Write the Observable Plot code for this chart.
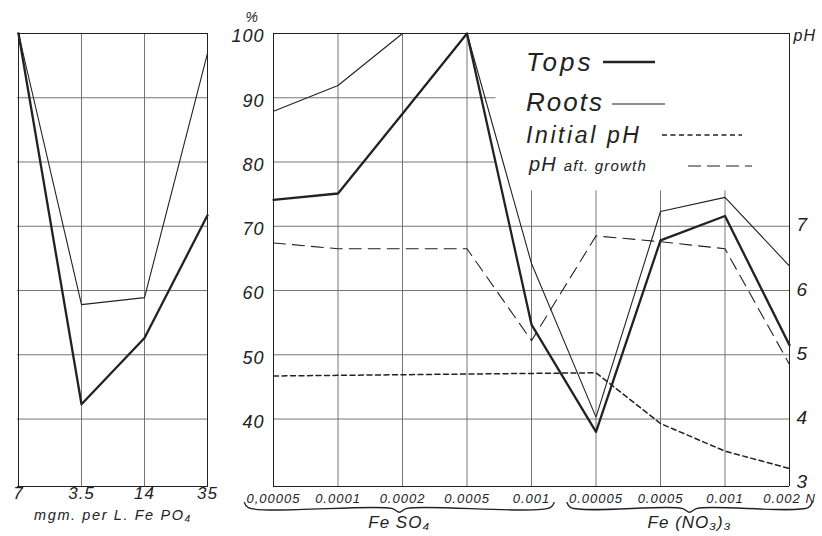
<!DOCTYPE html>
<html>
<head>
<meta charset="utf-8">
<script src="https://cdn.jsdelivr.net/npm/d3@7"></script>
<script src="https://cdn.jsdelivr.net/npm/@observablehq/plot@0.6"></script>
<style>
  html, body { margin: 0; padding: 0; background: #fff; }
  #wrap { position: relative; width: 822px; height: 536px; overflow: hidden; background: #fff; }
  #left { position: absolute; left: 0; top: 0; }
  #right { position: absolute; left: 225px; top: 0; }
  #legend { position: absolute; left: 0; top: 0; pointer-events: none; }
  svg text { font-family: "Liberation Sans", "DejaVu Sans", sans-serif; font-style: italic; letter-spacing: 1px; }
</style>
</head>
<body>
<div id="wrap">
  <div id="left"></div>
  <div id="right"></div>
  <svg id="legend" width="822" height="536"></svg>
</div>
<script>
// ---- Left panel: mgm. per L. Fe PO4 ----
const leftX = ["7", "3.5", "14", "35"];
const leftTops = [100, 42.3, 52.6, 71.7];
const leftRoots = [100, 57.8, 58.9, 96.9];

// ---- Right panel ----
const rightX = ["0,00005", "0.0001", "0.0002", "0.0005", "0.001", "0.00005", "0.0005", "0.001", "0.002 N"];
const tops = [74.1, 75.1, 87.5, 100, 54.7, 38.0, 67.8, 71.6, 51.5];
const roots = [87.9, 91.9, 100, 100, 64.2, 40.3, 72.3, 74.5, 63.8];
const initialPH = [4.67, 4.68, 4.69, 4.70, 4.71, 4.72, 3.93, 3.50, 3.23];
const afterPH = [6.74, 6.65, 6.65, 6.65, 5.22, 6.85, 6.76, 6.65, 4.85];

const groups = [
  {name: "Fe SO\u2084", from: 0, to: 4},
  {name: "Fe (NO\u2083)\u2083", from: 5, to: 8}
];

const pctTicks = [40, 50, 60, 70, 80, 90, 100];
const pHTicks = [3, 4, 5, 6, 7];
const gridPct = [40, 50, 60, 70, 80, 90];

const yDomain = [29.5, 100];
const ink = "#222";
const gridInk = "#666";
const font = "Liberation Sans, DejaVu Sans, sans-serif";

// Left chart
const leftRows = leftX.map((x, i) => ({x, tops: leftTops[i], roots: leftRoots[i]}));
const leftChart = Plot.plot({
  width: 230, height: 536,
  marginLeft: 17, marginRight: 22, marginTop: 33, marginBottom: 50,
  x: {type: "point", domain: leftX, padding: 0, axis: null},
  y: {domain: yDomain, axis: null},
  style: {fontFamily: font, background: "white"},
  marks: [
    Plot.ruleY(gridPct, {stroke: gridInk, strokeWidth: 0.9}),
    Plot.ruleX(leftX.slice(1, -1), {stroke: gridInk, strokeWidth: 0.9}),
    Plot.ruleY([yDomain[0], 100], {stroke: ink, strokeWidth: 1}),
    Plot.ruleX([leftX[0], leftX[leftX.length - 1]], {stroke: ink, strokeWidth: 1}),
    Plot.line(leftRows, {x: "x", y: "roots", stroke: ink, strokeWidth: 1.1}),
    Plot.line(leftRows, {x: "x", y: "tops", stroke: ink, strokeWidth: 2.3}),
    Plot.text(leftX, {x: d => d, frameAnchor: "bottom", dy: 12, fontSize: 17, fill: ink}),
    Plot.text(["mgm. per L. Fe PO\u2084"], {frameAnchor: "bottom", dy: 33, dx: 0, fontSize: 14.5, fill: ink})
  ]
});
document.getElementById("left").appendChild(leftChart);
d3.select(leftChart).selectAll("text").filter(function() { return this.textContent.startsWith("mgm"); })
  .style("letter-spacing", "1.6px");

// Right chart
const rows = rightX.map((lab, i) => ({
  i, tops: tops[i], roots: roots[i], init: initialPH[i] * 10, after: afterPH[i] * 10
}));
const braceRows = [];
groups.forEach((g, gi) => {
  const a = g.from - 0.45, b = g.to + 0.35, m = (a + b) / 2;
  [[a, 27.0], [a + 0.06, 26.2], [m - 0.12, 26.1], [m, 25.5], [m + 0.12, 26.1], [b - 0.06, 26.2], [b, 27.0]]
    .forEach(([x, y]) => braceRows.push({g: gi, x, y}));
});
const groupLabels = groups.map(g => ({name: g.name, x: (g.from - 0.45 + g.to + 0.35) / 2}));

const rightChart = Plot.plot({
  width: 597, height: 536,
  marginLeft: 48, marginRight: 33, marginTop: 33, marginBottom: 50,
  x: {domain: [0, rightX.length - 1], axis: null},
  y: {domain: yDomain, axis: null},
  style: {fontFamily: font, background: "white", overflow: "visible"},
  marks: [
    Plot.ruleY(gridPct, {stroke: gridInk, strokeWidth: 0.9}),
    Plot.ruleX(d3.range(1, rightX.length - 1), {stroke: gridInk, strokeWidth: 0.9}),
    // clear area behind legend
    Plot.rect([0], {x1: 3.45, x2: 8, y1: 75.5, y2: 99.85, fill: "white"}),
    Plot.ruleY([yDomain[0], 100], {stroke: ink, strokeWidth: 1}),
    Plot.ruleX([0, rightX.length - 1], {stroke: ink, strokeWidth: 1}),
    Plot.line(rows, {x: "i", y: "init", stroke: ink, strokeWidth: 1.5, strokeDasharray: "5,3.5"}),
    Plot.line(rows, {x: "i", y: "after", stroke: ink, strokeWidth: 1.1, strokeDasharray: "12,7"}),
    Plot.line(rows, {x: "i", y: "roots", stroke: ink, strokeWidth: 1.1}),
    Plot.line(rows, {x: "i", y: "tops", stroke: ink, strokeWidth: 2.3}),
    // left % ticks
    Plot.text(pctTicks, {y: d => d, frameAnchor: "left", dx: -9, dy: 3, textAnchor: "end", fontSize: 18, fill: ink}),
    Plot.text(["%"], {frameAnchor: "top-left", dx: -28, dy: -21, fontSize: 14, fill: ink}),
    // right pH ticks
    Plot.text(pHTicks, {y: d => d * 10, frameAnchor: "right", dx: 7, dy: -1, textAnchor: "start", fontSize: 19, fill: ink}),
    Plot.text(["pH"], {frameAnchor: "top-right", dx: 4, dy: -4, textAnchor: "start", fontSize: 16, fill: ink}),
    // x tick labels
    Plot.text(rightX, {x: (d, i) => i, frameAnchor: "bottom", dy: 16, fontSize: 13, fill: ink, textAnchor: "middle"}),
    // braces and group labels
    Plot.line(braceRows, {x: "x", y: "y", z: "g", stroke: ink, strokeWidth: 1.4, curve: "catmull-rom"}),
    Plot.text(groupLabels, {x: "x", frameAnchor: "bottom", dy: 41, text: "name", fontSize: 17, fill: ink})
  ]
});
document.getElementById("right").appendChild(rightChart);

// Legend
const lg = d3.select("#legend");
const legendItems = [
  {label: "Tops", x: 526, y: 71, size: 26, sp: 3, lx1: 603, lx2: 655, ly: 62, w: 2.3, dash: null},
  {label: "Roots", x: 526, y: 111, size: 26, sp: 2, lx1: 612, lx2: 665, ly: 104, w: 1.1, dash: null},
  {label: "Initial pH", x: 526, y: 143, size: 23, sp: 2.6, lx1: 662, lx2: 742, ly: 135, w: 1.5, dash: "5,3.5"},
];
legendItems.forEach(d => {
  lg.append("text").attr("x", d.x).attr("y", d.y).attr("font-size", d.size).attr("fill", ink)
    .style("letter-spacing", d.sp + "px").text(d.label);
  lg.append("line").attr("x1", d.lx1).attr("x2", d.lx2).attr("y1", d.ly).attr("y2", d.ly)
    .attr("stroke", ink).attr("stroke-width", d.w).attr("stroke-dasharray", d.dash);
});
const t4 = lg.append("text").attr("x", 529).attr("y", 171).attr("fill", ink).style("letter-spacing", "1.2px");
t4.append("tspan").attr("font-size", 20).text("pH ");
t4.append("tspan").attr("font-size", 15).text("aft. growth");
lg.append("line").attr("x1", 688).attr("x2", 752).attr("y1", 166).attr("y2", 166)
  .attr("stroke", ink).attr("stroke-width", 1.1).attr("stroke-dasharray", "13,6");
</script>
</body>
</html>
